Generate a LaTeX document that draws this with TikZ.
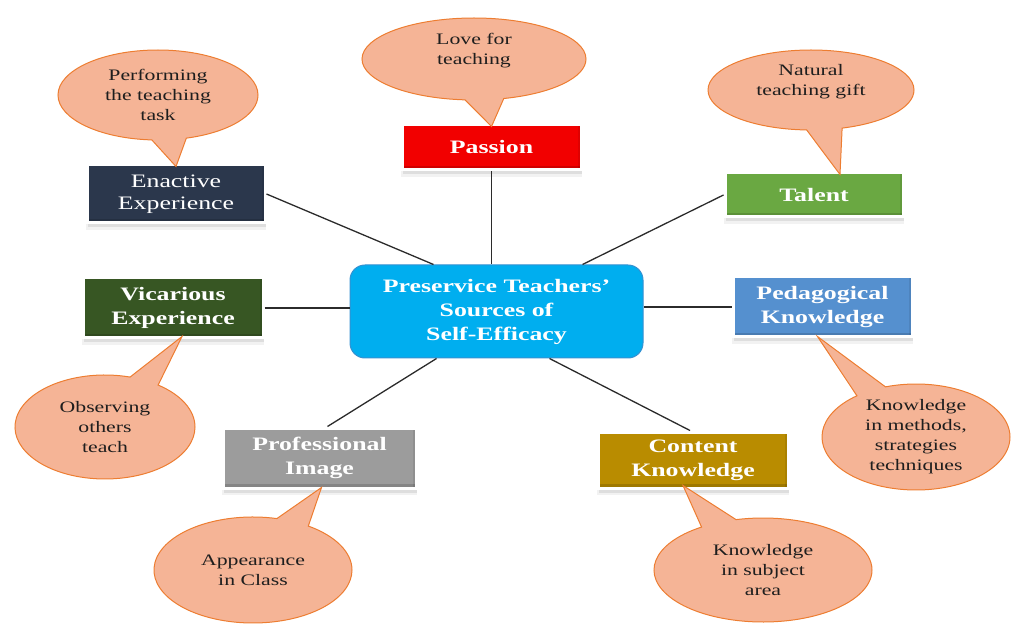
\documentclass[tikz,border=0pt]{standalone}
\usepackage{fontspec}
\setmainfont{Liberation Serif}[FakeStretch=1.36]
\usetikzlibrary{shapes.callouts,shadows}

\definecolor{bubblefill}{HTML}{F5B496}
\definecolor{bubbleline}{HTML}{ED7D31}
\definecolor{bubbletext}{HTML}{1E1E1E}
\definecolor{linkgray}{HTML}{2B2B2B}
\definecolor{enactivecol}{HTML}{2B374C}
\definecolor{passioncol}{HTML}{F20000}
\definecolor{talentcol}{HTML}{6AA842}
\definecolor{vicariouscol}{HTML}{375623}
\definecolor{pedagogcol}{HTML}{5590CF}
\definecolor{profcol}{HTML}{9C9C9C}
\definecolor{contentcol}{HTML}{B98C00}
\definecolor{corefill}{HTML}{00AEEF}
\definecolor{coreline}{HTML}{3591D1}

\tikzset{
  source/.style={rectangle, draw=white, line width=3pt, text=white, align=center,
    inner sep=2pt, font=\fontsize{19}{24}\selectfont\bfseries,
    drop shadow={shadow xshift=0pt, shadow yshift=-7pt, shadow scale=1.01, opacity=.10},
    drop shadow={shadow xshift=1pt, shadow yshift=-4.5pt, opacity=.18},
    path picture={\fill[black,opacity=.14]
      (path picture bounding box.south west) rectangle
      ([yshift=4pt]path picture bounding box.south east);
      \fill[black,opacity=.08]
      (path picture bounding box.south east) rectangle
      ([xshift=-3pt]path picture bounding box.north east);}},
  bubble/.style={ellipse callout, draw=bubbleline, fill=bubblefill, line width=1pt,
    text=bubbletext, align=center, inner sep=0pt, callout pointer arc=20,
    font=\fontsize{16}{20}\selectfont},
  link/.style={draw=linkgray, line width=1.3pt},
  core/.style={rectangle, rounded corners=15pt, draw=coreline, line width=1pt,
    fill=corefill, text=white, align=center,
    font=\fontsize{19}{24}\selectfont\bfseries}
}

\begin{document}
\begin{tikzpicture}[x=1pt,y=1pt]
\useasboundingbox (0,0) rectangle (1013,625);

% central node
\node[core, minimum width=293pt, minimum height=93pt] (center) at (496.5,313.5)
  {Preservice Teachers'\\Sources of\\Self-Efficacy};

% source boxes
\path
  node[source, fill=enactivecol, minimum width=178pt, minimum height=58pt,
       font=\fontsize{19}{22}\selectfont] (enactive) at (176,431) {Enactive\\Experience}
  node[source, fill=passioncol, minimum width=179pt, minimum height=45pt] (passion) at (491.5,477.5) {Passion}
  node[source, fill=talentcol, minimum width=178pt, minimum height=44pt] (talent) at (814,430) {Talent}
  node[source, fill=vicariouscol, minimum width=180pt, minimum height=60pt] (vicarious) at (173,317) {Vicarious\\Experience}
  node[source, fill=pedagogcol, minimum width=179pt, minimum height=60pt] (pedagog) at (822.5,318) {Pedagogical\\Knowledge}
  node[source, fill=profcol, minimum width=193pt, minimum height=60pt] (prof) at (319.5,167) {Professional\\Image}
  node[source, fill=contentcol, minimum width=190pt, minimum height=56pt] (content) at (693,165) {Content\\Knowledge};

% connectors from the sources to the centre
\draw[link] (passion.south) -- (passion.south |- center.north);
\draw[link] (enactive.east) -- ([xshift=-63pt]center.north);
\draw[link] (talent.west) -- ([xshift=86pt]center.north);
\draw[link] (vicarious.east) -- (vicarious.east -| center.west);
\draw[link] (pedagog.west) -- (pedagog.west -| center.east);
\draw[link] ([xshift=8pt]prof.north) -- ([xshift=-60pt]center.south);
\draw[link] ([xshift=-3pt]content.north) -- ([xshift=53pt]center.south);

% description bubbles pointing at their sources
\node[bubble, minimum width=224pt, minimum height=82pt,
      callout absolute pointer={([yshift=-3pt]passion.north)}] (love) at (474,566)
  {Love for\\teaching\\\mbox{}};
\node[bubble, minimum width=200pt, minimum height=90pt,
      callout absolute pointer={([yshift=-3pt]enactive.north)}] (perform) at (158,530)
  {Performing\\the teaching\\task};
\node[bubble, minimum width=206pt, minimum height=80pt,
      callout absolute pointer={([xshift=26pt,yshift=-3pt]talent.north)}] (gift) at (811,535)
  {Natural\\teaching gift\\\mbox{}};
\node[bubble, minimum width=180pt, minimum height=104pt,
      callout absolute pointer={([xshift=9pt,yshift=3pt]vicarious.south)}] (observe) at (105,198)
  {Observing\\others\\teach};
\node[bubble, minimum width=198pt, minimum height=106pt,
      callout absolute pointer={([xshift=2pt,yshift=2pt]prof.south)}] (appear) at (253,55)
  {Appearance\\in Class};
\node[bubble, minimum width=218pt, minimum height=104pt,
      callout absolute pointer={([xshift=-10pt,yshift=4pt]content.south)}] (subject) at (763,55)
  {Knowledge\\in subject\\area};
\node[bubble, minimum width=188pt, minimum height=106pt,
      callout absolute pointer={([xshift=-5pt,yshift=2pt]pedagog.south)}] (methods) at (916,188)
  {Knowledge\\in methods,\\strategies\\techniques};
\end{tikzpicture}
\end{document}
